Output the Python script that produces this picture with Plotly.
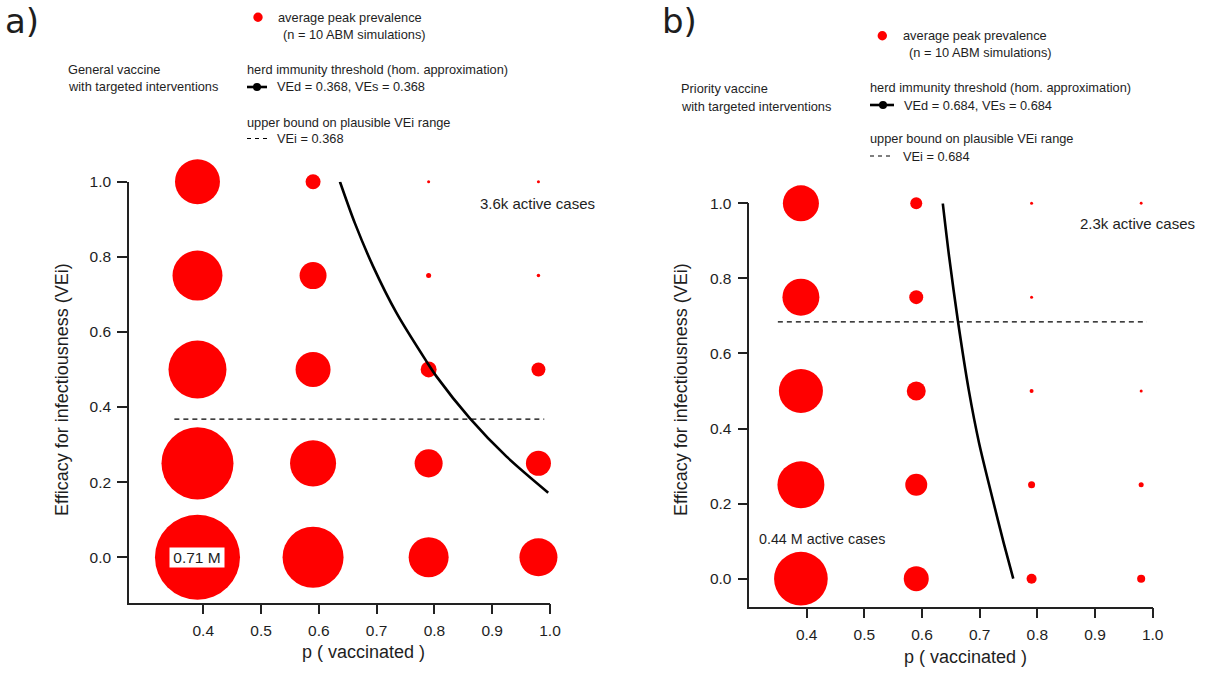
import plotly.graph_objects as go

W, H = 1225, 673

# ---------------- data ----------------
p_vaccinated = [0.39, 0.59, 0.79, 0.98]
vei_levels = [0.0, 0.25, 0.5, 0.75, 1.0]

# average peak prevalence (thousand active cases); one list per p, ordered by VEi
general_p039 = [710, 598, 477, 408, 365]
general_p059 = [503, 374, 279, 210, 107]
general_p079 = [322, 219, 115, 21, 4.0]
general_p098 = [305, 193, 98, 7.8, 3.6]

priority_p039 = [440, 382, 357, 296, 288]
priority_p059 = [193, 167, 141, 98, 81]
priority_p079 = [64, 38, 12, 3.4, 3.4]
priority_p098 = [47, 21, 3.4, None, 2.3]

# herd immunity threshold curves
herd_general_p = [0.6365, 0.6625, 0.6941, 0.7346, 0.7865, 0.8038, 0.8614, 0.9249, 0.9969]
herd_general_vei = [1.0, 0.889, 0.774, 0.650, 0.521, 0.481, 0.370, 0.268, 0.172]
herd_priority_p = [0.636, 0.647, 0.662, 0.681, 0.699, 0.723, 0.7418, 0.7582]
herd_priority_vei = [1.0, 0.858, 0.689, 0.503, 0.361, 0.209, 0.094, 0.0]

# upper bound on plausible VEi
vei_bound_general = 0.368
vei_bound_priority = 0.684
bound_p_range = [0.35, 0.99]

x_ticks = [0.4, 0.5, 0.6, 0.7, 0.8, 0.9, 1.0]
y_ticks = [0.0, 0.2, 0.4, 0.6, 0.8, 1.0]

# ---------------- helpers ----------------
RED = "#ff0000"
TXT = "#1e1e1e"
FONT = "Liberation Sans, Arial, sans-serif"


def marker_diam(v):
    if v is None:
        return 0
    return 2.6 + 0.1161 * v


def px(x):
    return x / W


def py(y):
    return 1 - y / H


def bubble_trace(cols, xa, ya):
    xs, ys, ss = [], [], []
    for p, col in zip(p_vaccinated, cols):
        for vei, v in zip(vei_levels, col):
            if v is None:
                continue
            xs.append(p)
            ys.append(vei)
            ss.append(marker_diam(v))
    return go.Scatter(x=xs, y=ys, mode="markers", xaxis=xa, yaxis=ya,
                      marker=dict(size=ss, sizemode="diameter", color=RED, opacity=1, line=dict(width=0)),
                      cliponaxis=False, showlegend=False, hoverinfo="skip")


fig = go.Figure()

# panel a
fig.add_trace(bubble_trace([general_p039, general_p059, general_p079, general_p098], "x", "y"))
fig.add_trace(go.Scatter(x=bound_p_range, y=[vei_bound_general] * 2, mode="lines", xaxis="x", yaxis="y",
                         line=dict(color="black", width=1.2, dash="5px,4px"), showlegend=False, hoverinfo="skip"))
fig.add_trace(go.Scatter(x=herd_general_p, y=herd_general_vei, mode="lines", xaxis="x", yaxis="y",
                         line=dict(color="black", width=2.6, shape="spline", smoothing=0.8), showlegend=False,
                         hoverinfo="skip", cliponaxis=False))

# panel b
fig.add_trace(bubble_trace([priority_p039, priority_p059, priority_p079, priority_p098], "x2", "y2"))
fig.add_trace(go.Scatter(x=bound_p_range, y=[vei_bound_priority] * 2, mode="lines", xaxis="x2", yaxis="y2",
                         line=dict(color="black", width=1.2, dash="5px,4px"), showlegend=False, hoverinfo="skip"))
fig.add_trace(go.Scatter(x=herd_priority_p, y=herd_priority_vei, mode="lines", xaxis="x2", yaxis="y2",
                         line=dict(color="black", width=2.6, shape="spline", smoothing=0.8), showlegend=False,
                         hoverinfo="skip", cliponaxis=False))

axis_common = dict(showgrid=False, zeroline=False, showline=True, linecolor="#222", linewidth=1.5,
                   ticks="outside", ticklen=10, tickwidth=1.5, tickcolor="#222",
                   tickfont=dict(family=FONT, size=15.5, color=TXT), tickformat=".1f",
                   ticklabelstandoff=3, automargin=False)

fig.update_layout(
    width=W, height=H,
    margin=dict(l=0, r=0, t=0, b=0, pad=0, autoexpand=False),
    showlegend=False,
    paper_bgcolor="white", plot_bgcolor="white",
    xaxis=dict(domain=[px(129), px(550)], range=[0.2715, 1.0], tickvals=x_ticks, anchor="y", **axis_common),
    yaxis=dict(domain=[py(602.7), py(181.7)], range=[-0.121, 1.0], tickvals=y_ticks, anchor="x", **axis_common),
    xaxis2=dict(domain=[px(749.3), px(1152.7)], range=[0.3005, 1.0], tickvals=x_ticks, anchor="y2", **axis_common),
    yaxis2=dict(domain=[py(606.7), py(203.3)], range=[-0.0746, 1.0], tickvals=y_ticks, anchor="x2", **axis_common),
)

ann = []


def text(x, y, s, size=13, xanchor="left", family=FONT, **kw):
    ann.append(dict(x=px(x), y=py(y), xref="paper", yref="paper", text=s, showarrow=False,
                    xanchor=xanchor, yanchor="middle", font=dict(family=family, size=size, color=TXT), **kw))


# panel labels
text(3, 21, "a)", size=34, family="DejaVu Sans, sans-serif")
text(660, 21, "b)", size=34, family="DejaVu Sans, sans-serif")

# axis titles
text(363, 652, "p ( vaccinated )", size=18, xanchor="center")
text(965, 657, "p ( vaccinated )", size=18, xanchor="center")
text(62, 390, "Efficacy for infectiousness (VEi)", size=18, xanchor="center", textangle=-90)
text(681, 390, "Efficacy for infectiousness (VEi)", size=18, xanchor="center", textangle=-90)

# legend block panel a
text(276, 17.5, "average peak prevalence", size=12.8)
text(281, 34.5, "(n = 10 ABM simulations)", size=12.8)
text(66, 69.5, "General vaccine", size=12.8)
text(66, 87, "with targeted interventions", size=12.8)
text(245, 70, "herd immunity threshold (hom. approximation)", size=12.8)
text(275, 87, "VEd = 0.368, VEs = 0.368", size=12.8)
text(245, 122.5, "upper bound on plausible VEi range", size=12.8)
text(275, 138.5, "VEi = 0.368", size=12.8)

# legend block panel b
text(900.7, 35.7, "average peak prevalence", size=12.8)
text(906.7, 52.3, "(n = 10 ABM simulations)", size=12.8)
text(679.3, 88.3, "Priority vaccine", size=12.8)
text(679.3, 106, "with targeted interventions", size=12.8)
text(867.7, 87.7, "herd immunity threshold (hom. approximation)", size=12.8)
text(901.7, 105, "VEd = 0.684, VEs = 0.684", size=12.8)
text(867.7, 139, "upper bound on plausible VEi range", size=12.8)
text(901, 156, "VEi = 0.684", size=12.8)

# in-plot labels
ann.append(dict(x=p_vaccinated[0], y=vei_levels[0], xref="x", yref="y", text="0.71 M", showarrow=False,
                xanchor="center", yanchor="middle", bgcolor="white", borderpad=1, width=52,
                font=dict(family=FONT, size=15.5, color=TXT)))
text(477.7, 203.3, "3.6k active cases", size=15)
text(1078.3, 224, "2.3k active cases", size=15)
text(757.3, 539.3, "0.44 M active cases", size=14.3)

fig.update_layout(annotations=ann)

# legend symbols
shapes = []
for (x0, x1, yy, xd) in [(247, 267, 87, 257), (870, 894, 105, 883)]:
    shapes.append(dict(type="line", xref="paper", yref="paper", x0=px(x0), x1=px(x1), y0=py(yy), y1=py(yy),
                       line=dict(color="black", width=2.6)))
    shapes.append(dict(type="circle", xref="paper", yref="paper", x0=px(xd - 4), x1=px(xd + 4),
                       y0=py(yy + 4), y1=py(yy - 4), fillcolor="black", line=dict(width=0)))
for (x0, x1, yy) in [(247, 267, 138.5), (870, 890, 156)]:
    shapes.append(dict(type="line", xref="paper", yref="paper", x0=px(x0), x1=px(x1), y0=py(yy), y1=py(yy),
                       line=dict(color="black", width=1.2, dash="4px,4px")))
for (xc, yc) in [(258, 17.3), (882.3, 35.7)]:
    shapes.append(dict(type="circle", xref="paper", yref="paper", x0=px(xc - 4.7), x1=px(xc + 4.7),
                       y0=py(yc + 4.7), y1=py(yc - 4.7), fillcolor=RED, line=dict(width=0)))
fig.update_layout(shapes=shapes)

fig.write_html("out.html")
